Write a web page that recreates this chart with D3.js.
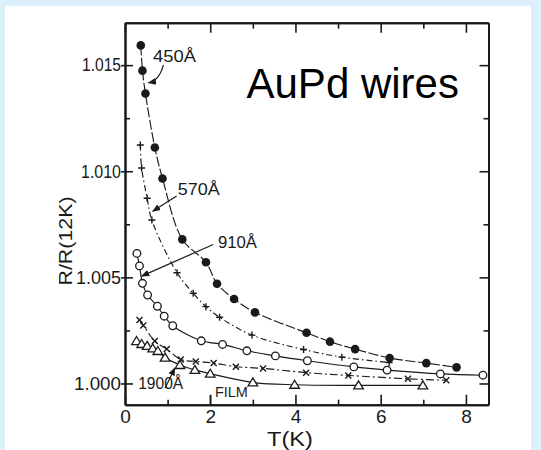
<!DOCTYPE html>
<html><head><meta charset="utf-8">
<script src="https://cdn.jsdelivr.net/npm/d3@7/dist/d3.min.js"></script>
<style>html,body{margin:0;padding:0;background:#dcf0fb;}svg{display:block;}</style>
</head><body>
<svg id="chart" width="541" height="450"></svg>
<script>
// ---- data (T in K, R/R(12K)) ----
const t450 = [0.37,0.41,0.48,0.70,0.88,1.345,1.90,2.16,2.56,3.05,4.26,4.81,5.40,6.21,7.07,7.78];
const r450 = [1.01593,1.01474,1.01366,1.01112,1.00966,1.00679,1.00571,1.00470,1.00398,1.00335,1.00239,1.00197,1.00162,1.00120,1.00096,1.00076];
const t570 = [0.36,0.39,0.52,0.63,1.22,1.60,1.90,2.22,2.98,4.19,5.09,6.20];
const r570 = [1.01124,1.01015,1.00873,1.00770,1.00522,1.00425,1.00362,1.00312,1.00228,1.00160,1.00124,1.00099];
const t910 = [0.28,0.34,0.41,0.53,0.76,0.92,1.12,1.79,2.29,2.86,3.53,4.28,5.37,6.15,7.40,8.40];
const r910 = [1.00613,1.00554,1.00472,1.00417,1.00364,1.00317,1.00272,1.00201,1.00184,1.00154,1.00130,1.00107,1.00078,1.00063,1.00045,1.00039];
const t1900 = [0.34,0.43,0.70,0.98,1.31,1.66,2.08,2.60,3.24,4.25,5.24,6.64,7.54];
const r1900 = [1.00299,1.00273,1.00200,1.00162,1.00113,1.00104,1.00096,1.00079,1.00071,1.00051,1.00038,1.00022,1.00015];
const tFilm = [0.27,0.39,0.52,0.65,0.77,0.94,1.29,1.64,2.00,3.00,3.98,5.48,6.99];
const rFilm = [1.00200,1.00186,1.00177,1.00165,1.00153,1.00122,1.00087,1.00064,1.00046,1.00005,0.99994,0.99991,0.99991];

const xMajor = [0,2,4,6,8];
const xMinor = [1,3,5,7];
const yMajor = [1.000,1.005,1.010,1.015];
const yMinor = [1.0025,1.0075,1.0125];
const yLabels = ["1.000","1.005","1.010","1.015"];

// annotation labels (data coordinates)
const annText = ["450Å","570Å","910Å","1900Å","FILM"];
const annT = [0.66,1.24,2.18,0.31,2.11];
const annR = [1.01516,1.00888,1.00637,0.99974,0.99936];
// arrows: start (T,R) -> end (T,R)
const arrT0 = [0.90,1.21,2.07,0.94];
const arrR0 = [1.01501,1.00883,1.00655,0.99978];
const arrT1 = [0.55,0.65,0.39,1.17];
const arrR1 = [1.01417,1.00811,1.00506,1.00073];

// ---- layout ----
const svg = d3.select("#chart");
svg.append("rect").attr("x",0).attr("y",0).attr("width",541).attr("height",450).attr("fill","#dcf0fb");
svg.append("rect").attr("x",5).attr("y",6).attr("width",526).attr("height",444).attr("fill","#ffffff");

const L=125, R=488.5, T=22.7, B=404.7;
const x = d3.scaleLinear().domain([0,8.53]).range([L,R]);
const y = d3.scaleLinear().domain([0.999,1.017]).range([B,T]);
const ink = "#1a1a1a";
const font = "Liberation Sans, Arial, sans-serif";

function styleAxis(g){
  g.selectAll("path.domain").attr("stroke",ink).attr("stroke-width",2);
  g.selectAll("line").attr("stroke",ink).attr("stroke-width",1.6);
  g.selectAll("text").attr("fill",ink).attr("font-family",font);
}

// bottom
const gb = svg.append("g").attr("transform",`translate(0,${B})`)
  .call(d3.axisBottom(x).tickValues(xMajor).tickSize(-10).tickSizeOuter(0).tickPadding(4.5).tickFormat(d3.format("d")));
styleAxis(gb); gb.selectAll("text").attr("font-size",19);
const gbm = svg.append("g").attr("transform",`translate(0,${B})`)
  .call(d3.axisBottom(x).tickValues(xMinor).tickSize(-5).tickSizeOuter(0).tickFormat(""));
styleAxis(gbm);
// top
const gt = svg.append("g").attr("transform",`translate(0,${T})`)
  .call(d3.axisTop(x).tickValues(xMajor).tickSize(-10).tickSizeOuter(0).tickFormat(""));
styleAxis(gt);
const gtm = svg.append("g").attr("transform",`translate(0,${T})`)
  .call(d3.axisTop(x).tickValues(xMinor).tickSize(-6).tickSizeOuter(0).tickFormat(""));
styleAxis(gtm);
// left
const widths = {"1.000":47,"1.005":45,"1.010":40,"1.015":39};
const gl = svg.append("g").attr("transform",`translate(${L},0)`)
  .call(d3.axisLeft(y).tickValues(yMajor).tickSize(-8).tickSizeOuter(0).tickPadding(4)
     .tickFormat((d,i)=>yLabels[i]));
styleAxis(gl);
gl.selectAll("text").attr("font-size",18)
  .attr("textLength",(d,i)=>widths[yLabels[i]]).attr("lengthAdjust","spacingAndGlyphs");
gl.selectAll(".tick").append("line").attr("x1",-4).attr("x2",0).attr("stroke",ink).attr("stroke-width",1.6);
const glm = svg.append("g").attr("transform",`translate(${L},0)`)
  .call(d3.axisLeft(y).tickValues(yMinor).tickSize(-5).tickSizeOuter(0).tickFormat(""));
styleAxis(glm);
// right
const gr = svg.append("g").attr("transform",`translate(${R},0)`)
  .call(d3.axisRight(y).tickValues(yMajor).tickSize(-9).tickSizeOuter(0).tickFormat(""));
styleAxis(gr);
const grm = svg.append("g").attr("transform",`translate(${R},0)`)
  .call(d3.axisRight(y).tickValues(yMinor).tickSize(-5).tickSizeOuter(0).tickFormat(""));
styleAxis(grm);

// axis titles
svg.append("text").attr("x",290).attr("y",446).attr("text-anchor","middle")
  .attr("font-family",font).attr("font-size",20).attr("fill",ink)
  .attr("textLength",46).attr("lengthAdjust","spacingAndGlyphs").text("T(K)");
svg.append("text").attr("transform","translate(72,241) rotate(-90)").attr("text-anchor","middle")
  .attr("font-family",font).attr("font-size",19).attr("fill",ink)
  .attr("textLength",89).attr("lengthAdjust","spacingAndGlyphs").text("R/R(12K)");

// title
svg.append("text").attr("x",246.5).attr("y",98.3)
  .attr("font-family",font).attr("font-size",42).attr("fill","#000")
  .text("AuPd wires");

// ---- series ----
const series = [
  {t:t450, r:r450, marker:"filled", dash:"10,2.5"},
  {t:t570, r:r570, marker:"plus", dash:"6,3,1.5,3"},
  {t:t910, r:r910, marker:"open", dash:null},
  {t:t1900, r:r1900, marker:"cross", dash:"8,3,2,3"},
  {t:tFilm, r:rFilm, marker:"tri", dash:null}
];
const line = d3.line().x(d=>x(d[0])).y(d=>y(d[1])).curve(d3.curveCatmullRom.alpha(0.5));
const plot = svg.append("g");
series.forEach(s=>{
  const pts = s.t.map((v,i)=>[v,s.r[i]]);
  plot.append("path").datum(pts).attr("d",line).attr("fill","none")
    .attr("stroke",ink).attr("stroke-width",1.15).attr("stroke-dasharray",s.dash);
});
series.forEach(s=>{
  const pts = s.t.map((v,i)=>[v,s.r[i]]);
  const g = plot.append("g");
  pts.forEach(p=>{
    const cx=x(p[0]), cy=y(p[1]);
    if(s.marker==="filled"){
      g.append("circle").attr("cx",cx).attr("cy",cy).attr("r",4.3).attr("fill",ink);
    } else if(s.marker==="open"){
      g.append("circle").attr("cx",cx).attr("cy",cy).attr("r",3.8).attr("fill","#fff").attr("stroke",ink).attr("stroke-width",1.3);
    } else if(s.marker==="plus"){
      g.append("path").attr("d",`M${cx-3.5},${cy}H${cx+3.5}M${cx},${cy-3.5}V${cy+3.5}`).attr("stroke",ink).attr("stroke-width",1.4);
    } else if(s.marker==="cross"){
      g.append("path").attr("d",`M${cx-3},${cy-3}L${cx+3},${cy+3}M${cx-3},${cy+3}L${cx+3},${cy-3}`).attr("stroke",ink).attr("stroke-width",1.4);
    } else if(s.marker==="tri"){
      g.append("path").attr("d",`M${cx},${cy-4.5}L${cx+4.8},${cy+3.5}L${cx-4.8},${cy+3.5}Z`).attr("fill","#fff").attr("stroke",ink).attr("stroke-width",1.3);
    }
  });
});

// ---- annotations ----
svg.append("defs").append("marker").attr("id","ah").attr("viewBox","0 0 10 10")
  .attr("refX",9).attr("refY",5).attr("markerWidth",7).attr("markerHeight",7).attr("orient","auto")
  .append("path").attr("d","M0,1L10,5L0,9Z").attr("fill",ink);
const annW = [43,42,39,45,33];
annText.forEach((s,i)=>{
  svg.append("text").attr("x",x(annT[i])).attr("y",y(annR[i]))
    .attr("font-family",font).attr("font-size",i===4?15:16).attr("fill",ink)
    .attr("textLength",annW[i]).attr("lengthAdjust","spacingAndGlyphs")
    .text(s);
});
arrT0.forEach((v,i)=>{
  const x0=x(v), y0=y(arrR0[i]), x1=x(arrT1[i]), y1=y(arrR1[i]);
  const d = i===0 ? `M${x0},${y0}Q${x0-4},${y1-2} ${x1},${y1}` : `M${x0},${y0}L${x1},${y1}`;
  svg.append("path").attr("d",d).attr("fill","none").attr("stroke",ink).attr("stroke-width",1.2)
    .attr("marker-end","url(#ah)");
});
// FILM pointer
svg.append("path").attr("d",`M${x(2.0)},${y(0.99902)}V${y(0.99945)}`).attr("stroke",ink).attr("stroke-width",1.3);
</script>
</body></html>
